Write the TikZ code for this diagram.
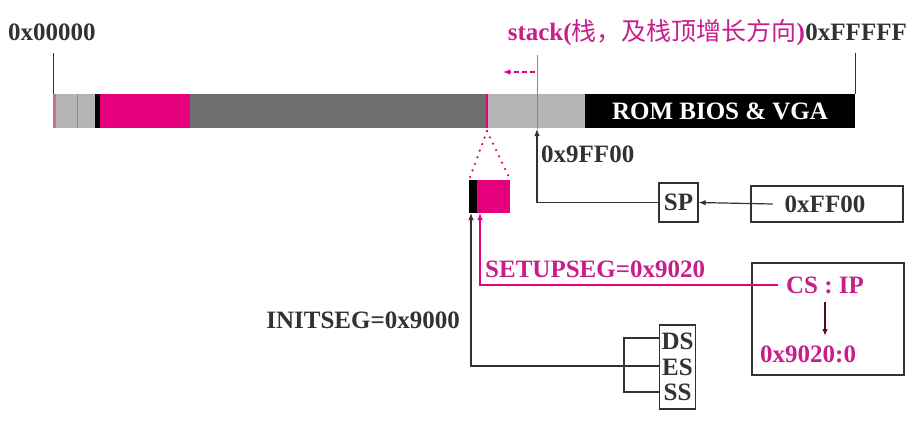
\documentclass[tikz,border=0pt]{standalone}
\usepackage{fontspec}
\setmainfont{Liberation Serif}
\newfontfamily\cjk{Noto Sans CJK SC}
\usetikzlibrary{arrows.meta}
\definecolor{mag}{RGB}{230,0,126}
\definecolor{magtxt}{RGB}{200,30,140}
\definecolor{dgray}{RGB}{110,110,110}
\definecolor{lgray}{RGB}{182,180,180}
\definecolor{txt}{RGB}{50,50,50}
\definecolor{maroon}{RGB}{80,10,40}
\begin{document}
\begin{tikzpicture}[x=1pt,y=-1pt,
  lbl/.style={font=\fontsize{25}{27}\selectfont\bfseries, text=txt, inner sep=0pt},
  mlbl/.style={lbl, text=magtxt},
  box/.style={draw=txt, line width=1.2pt, inner sep=0pt},
  conn/.style={draw=txt, line width=1.2pt},
  mconn/.style={draw=mag, line width=1.2pt},
  tip/.style={-{Latex[length=7pt,width=5.5pt]}},
  dotline/.style={mag, line width=2.5pt, dash pattern=on 0pt off 7pt, line cap=round}]
\useasboundingbox (0,0) rectangle (916,424);
% memory bar
\fill[lgray] (53,94) rectangle (96,128);
\fill[mag!40!lgray] (53,94) rectangle (56,128);
\draw[mag!40!lgray, line width=1pt] (77,94) -- (77,128);
\fill[black] (95,94) rectangle (100,128);
\fill[mag] (100,94) rectangle (190,128);
\fill[dgray] (190,94) rectangle (487,128);
\fill[lgray] (487,94) rectangle (585,128);
\fill[black] (585,94) rectangle (855,128);
\draw[mag, line width=1.4pt] (487,94) -- (487,128);
\node[lbl, text=white] (rom) at (720,111) {ROM BIOS \& VGA};
% ticks and top labels
\coordinate (t0) at (53,53);
\coordinate (b0) at (53,94);
\coordinate (t1) at (855,53);
\coordinate (b1) at (855,94);
\draw[txt, line width=0.9pt] (t0) -- (b0);
\draw[txt, line width=0.9pt] (t1) -- (b1);
\node[lbl, anchor=base west] (lo) at (8,40) {0x00000};
\node[lbl, anchor=base east] (hi) at (907,40) {0xFFFFF};
\node[mlbl, anchor=base east] (stk) at (hi.base west) {stack({\cjk\mdseries 栈，及栈顶增长方向})};
% stack pointer
\coordinate (sptop) at (537,55);
\coordinate (spbar) at (537,129);
\draw[mag!70, line width=0.9pt] (sptop) -- (spbar);
\coordinate (dA) at (535,72);
\coordinate (dB) at (503,72);
\draw[mag, line width=1.2pt, dash pattern=on 5pt off 3pt, tip] (dA) -- (dB);
\node[lbl, anchor=base west] (ff9) at (541,162) {0x9FF00};
% zoomed block
\coordinate (apex) at (487,131);
\node[fill=black, minimum width=8pt, minimum height=33pt, inner sep=0pt, anchor=north west] (blkk) at (469,180) {};
\node[fill=mag, minimum width=33pt, minimum height=33pt, inner sep=0pt, anchor=north west] (blk) at (477,180) {};
\draw[dotline] (apex) -- (blkk.north west);
\draw[dotline] (apex) -- (blk.north east);
% SP boxes
\node[box, lbl, minimum width=39pt, minimum height=39pt] (sp) at (678.5,202.5) {SP};
\node[box, minimum width=152pt, minimum height=36pt] (ffbox) at (827,204) {};
\node[lbl, inner xsep=12pt] (ff) at (825,204) {0xFF00};
\draw[conn, tip] (ff.west) -- (sp.east);
\draw[conn, tip] (sp.west) -| (spbar);
% SETUPSEG
\node[mlbl, anchor=base west] (setup) at (485,277) {SETUPSEG=0x9020};
\node[box, minimum width=152pt, minimum height=112pt] (csbox) at (828,319) {};
\node[mlbl, inner xsep=8pt] (cs) at (825,285) {CS : IP};
\node[mlbl, anchor=base west] (addr) at (760,362) {0x9020:0};
\draw[draw=maroon, line width=1.4pt, tip] (cs.south |- 0,302) -- (cs.south |- 0,336);
\coordinate (mb) at (480,213);
\draw[mconn, tip] (cs.west) -| (mb);
% INITSEG
\node[lbl, anchor=base east] (init) at (460,328) {INITSEG=0x9000};
\node[box, minimum width=36pt, minimum height=84pt] (regs) at (677.5,367) {};
\node[lbl] (ds) at (677.5,341) {DS};
\node[lbl] (es) at (677.5,367) {ES};
\node[lbl] (ss) at (677.5,392) {SS};
\coordinate (rDS) at (regs.west |- 0,338);
\coordinate (rES) at (regs.west |- 0,366);
\coordinate (rSS) at (regs.west |- 0,392);
\coordinate (kDS) at (624,338);
\coordinate (kSS) at (624,392);
\draw[conn] (rDS) -- (kDS) -- (kSS) -- (rSS);
\coordinate (kb) at (471,213);
\draw[conn, tip] (rES) -| (kb);
\end{tikzpicture}
\end{document}
